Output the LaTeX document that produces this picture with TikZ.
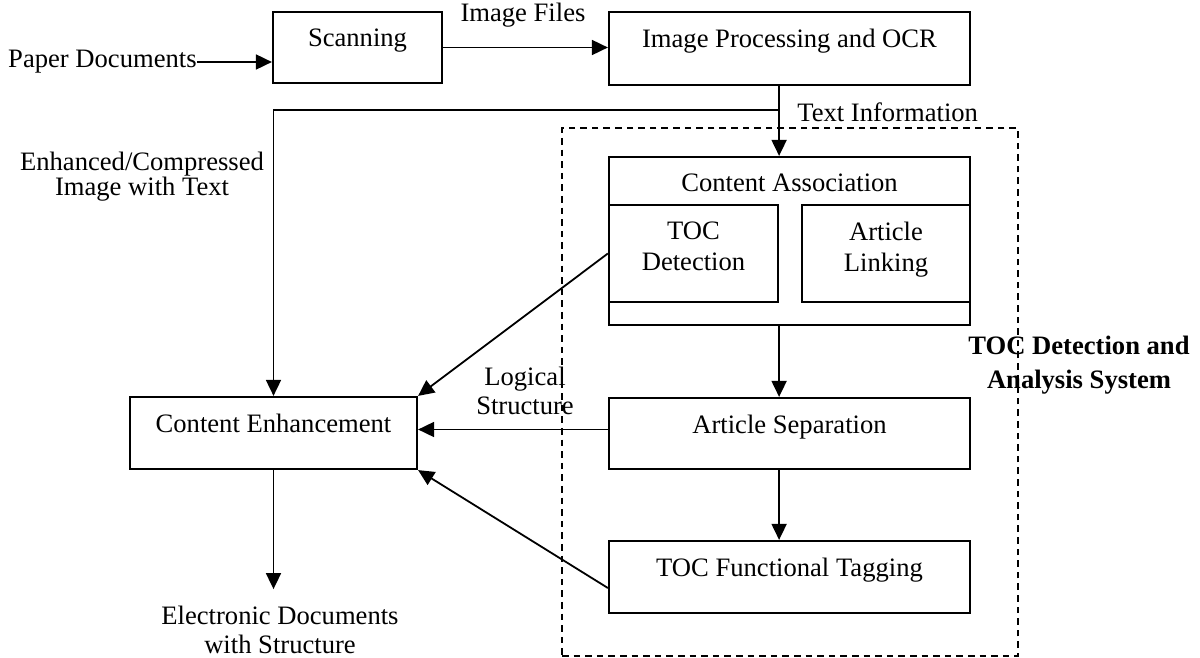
\documentclass[tikz,border=0pt]{standalone}
\usepackage{fontspec}
\setmainfont{Liberation Serif}
\usetikzlibrary{arrows.meta,calc}
\begin{document}
\begin{tikzpicture}[x=0.5pt,y=-0.5pt,
  font=\fontsize{13.3}{15.5}\selectfont,
  box/.style n args={2}{draw,line width=1.1pt,inner sep=0pt,
    minimum width=#1*0.5pt,minimum height=#2*0.5pt},
  inbox/.style={anchor=north,inner sep=0pt,yshift=-9pt,align=center},
  flow/.style={line width=0.9pt,-{Triangle[length=8pt,width=7.5pt]}},
  txt/.style={inner sep=0pt,align=center}]
\useasboundingbox (0,0) rectangle (1200,658);

% system boundary
\node[box={456}{528}, line width=0.8pt, dash pattern=on 3.3pt off 2.5pt] (sys) at (790,392) {};

% processing blocks
\node[box={169}{71}, label={[inbox]north:Scanning}] (scan) at (357.5,47.5) {};
\node[box={361}{73}, label={[inbox]north:Image Processing and OCR}] (ocr) at (789.5,48.5) {};
\node[box={361}{168}, label={[inbox]north:Content Association}] (assoc) at (789.5,241) {};
\node[box={169}{97}, label={[inbox]north:TOC\\Detection}] (tocdet) at (693.5,253.5) {};
\node[box={168}{97}, label={[inbox]north:Article\\Linking}] (artlink) at (886,253.5) {};
\node[box={361}{71}, label={[inbox]north:Article Separation}] (artsep) at (789.5,433.5) {};
\node[box={361}{72}, label={[inbox]north:TOC Functional Tagging}] (tagging) at (789.5,577) {};
\node[box={287}{72}, label={[inbox]north:Content Enhancement}] (enh) at (273.5,433) {};

% free labels
\node[txt, anchor=east] (paper) at (197,62) {Paper Documents};
\node[txt] (files) at (523,15) {Image Files};
\node[txt, anchor=west] (textinfo) at (797,112) {Text Information};
\node[txt, font=\fontsize{13.3}{12.5}\selectfont] (enhimg) at (142,177) {Enhanced/Compressed\\Image with Text};
\node[txt, font=\fontsize{13.3}{14.5}\selectfont] (logical) at (525,391) {Logical\\Structure};
\node[txt, font=\fontsize{13.3}{14.5}\selectfont] (elec) at (280,630) {Electronic Documents\\with Structure};
\node[txt, font=\fontsize{13.3}{17}\selectfont\bfseries] (syslabel) at (1079,365) {TOC Detection and\\Analysis System};

% connectors
\draw[flow] (paper.east) -- (paper.east -| scan.west);
\draw[flow] (scan.east) -- (scan.east -| ocr.west);
\draw[flow] (ocr.south -| tocdet.east) -- (assoc.north -| tocdet.east);
\coordinate (split) at ($(ocr.south -| tocdet.east)+(0,24)$);
\draw[flow] (split) -| (enh.north);
\draw[flow] (tocdet.west) -- (enh.north east);
\draw[flow] ([yshift=2pt]artsep.west) -- ([yshift=2pt]artsep.west -| enh.east);
\draw[flow] ([yshift=-5.5pt]tagging.west) -- (enh.south east);
\coordinate (out) at ($(enh.south)+(0,119)$);
\draw[flow] (enh.south) -- (out);
\draw[flow] (assoc.south -| tocdet.east) -- (artsep.north -| tocdet.east);
\draw[flow] (artsep.south -| tocdet.east) -- (tagging.north -| tocdet.east);
\end{tikzpicture}
\end{document}
